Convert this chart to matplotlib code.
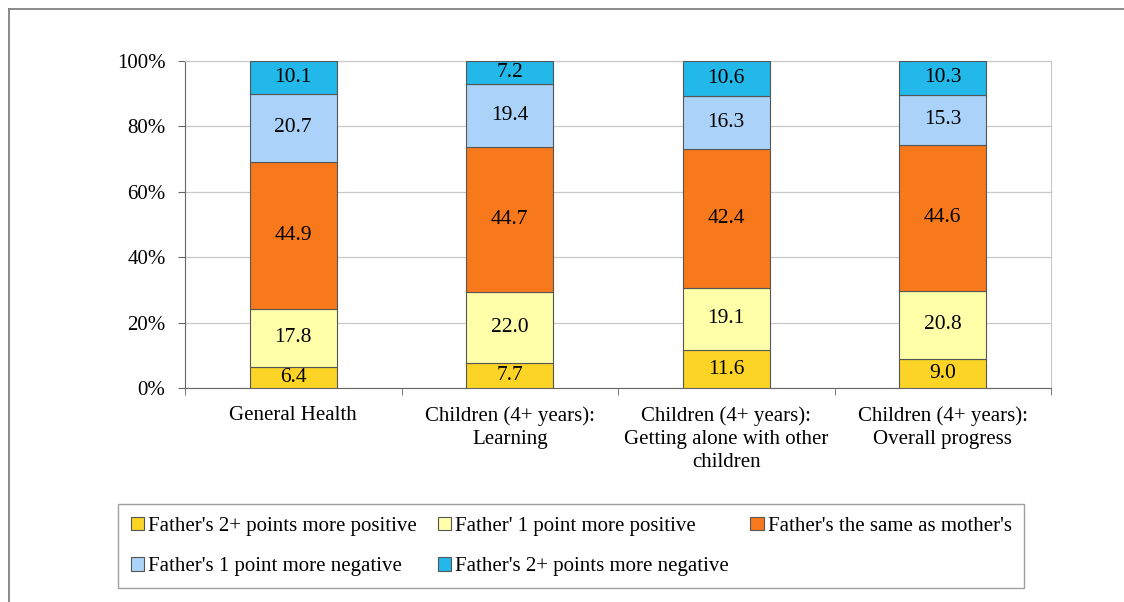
import numpy as np
import matplotlib
matplotlib.use('Agg')
import matplotlib.pyplot as plt
from matplotlib.lines import Line2D

categories = [
    "General Health",
    "Children (4+ years):\nLearning",
    "Children (4+ years):\nGetting alone with other\nchildren",
    "Children (4+ years):\nOverall progress",
]
series_names = [
    "Father's 2+ points more positive",
    "Father' 1 point more positive",
    "Father's the same as mother's",
    "Father's 1 point more negative",
    "Father's 2+ points more negative",
]
pos2 = [6.4, 7.7, 11.6, 9.0]
pos1 = [17.8, 22.0, 19.1, 20.8]
same = [44.9, 44.7, 42.4, 44.6]
neg1 = [20.7, 19.4, 16.3, 15.3]
neg2 = [10.1, 7.2, 10.6, 10.3]
colors = ['#FCD426', '#FFFFAA', '#F7791B', '#ABD3F9', '#22B8EA']
y_ticks = [0, 20, 40, 60, 80, 100]

plt.rcParams['font.family'] = ['Liberation Serif', 'DejaVu Serif']
FS = 15

W, H = 1124, 602
fig = plt.figure(figsize=(W / 100, H / 100), dpi=100)
ax = fig.add_axes([185 / W, 1 - 388 / H, (1051 - 185) / W, (388 - 61) / H])

data = np.array([pos2, pos1, same, neg1, neg2])
pct = data / data.sum(axis=0) * 100
x = np.arange(len(categories))
bottom = np.zeros(len(categories))
handles = []
for i, name in enumerate(series_names):
    bars = ax.bar(x, pct[i], bottom=bottom, width=0.4, color=colors[i],
                  edgecolor='#555555', linewidth=0.8, label=name, zorder=3)
    handles.append(bars)
    for j in range(len(categories)):
        ax.text(x[j], bottom[j] + pct[i][j] / 2, f"{data[i][j]:.1f}",
                ha='center', va='center', fontsize=15.5, zorder=4)
    bottom += pct[i]

ax.set_xlim(-0.5, len(categories) - 0.5)
ax.set_ylim(0, 100)
ax.set_yticks(y_ticks)
ax.set_yticklabels([f"{t}%" for t in y_ticks], fontsize=FS)
ax.set_xticks(x)
ax.set_xticklabels(categories, fontsize=FS, linespacing=1.3)
ax.tick_params(axis='x', length=0, pad=13)
ax.tick_params(axis='y', length=5, color='#666666', pad=9)
ax.set_xticks(np.arange(-0.5, len(categories)), minor=True)
ax.tick_params(axis='x', which='minor', length=5, color='#666666')
ax.grid(axis='y', color='#C8C8C8', linewidth=0.9, zorder=0)
ax.set_axisbelow(True)
for side in ['top', 'right']:
    ax.spines[side].set_color('#C8C8C8')
for side in ['left', 'bottom']:
    ax.spines[side].set_color('#666666')

order = [0, 3, 1, 4, 2]
leg = fig.legend([handles[k] for k in order], [series_names[k] for k in order],
                 loc='upper left', bbox_to_anchor=(118 / W, 1 - 504 / H),
                 ncol=3, fontsize=FS, frameon=True, fancybox=False,
                 handlelength=0.65, handleheight=0.65, handletextpad=0.2,
                 columnspacing=1.0, labelspacing=1.0, borderpad=0.6,
                 borderaxespad=0)
leg.get_frame().set_edgecolor('#888888')
leg.get_frame().set_linewidth(1.0)

fig.add_artist(Line2D([9 / W, 9 / W], [0, 1 - 9 / H], transform=fig.transFigure,
                      color='#777777', linewidth=1.2))
fig.add_artist(Line2D([9 / W, 1], [1 - 9 / H, 1 - 9 / H], transform=fig.transFigure,
                      color='#777777', linewidth=1.2))

fig.savefig('out.png', dpi=100, facecolor='white')
